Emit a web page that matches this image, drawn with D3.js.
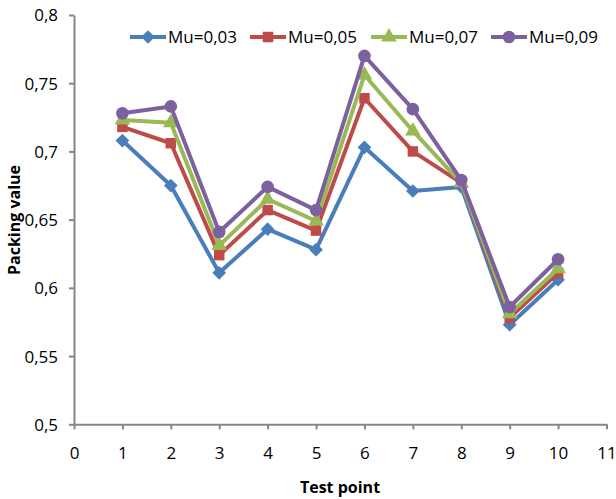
<!DOCTYPE html>
<html><head><meta charset="utf-8">
<script src="https://cdn.jsdelivr.net/npm/d3@7"></script>
<style>body{margin:0;background:#fff}svg{display:block}</style>
</head><body><div id="chart"></div>
<script>
const testPoints = [1,2,3,4,5,6,7,8,9,10];
const seriesNames = ["Mu=0,03","Mu=0,05","Mu=0,07","Mu=0,09"];
const mu003 = [0.708,0.675,0.611,0.643,0.628,0.703,0.671,0.674,0.573,0.606];
const mu005 = [0.718,0.706,0.624,0.657,0.642,0.739,0.700,0.677,0.578,0.611];
const mu007 = [0.723,0.721,0.631,0.665,0.649,0.756,0.715,0.677,0.581,0.614];
const mu009 = [0.728,0.733,0.641,0.674,0.657,0.770,0.731,0.679,0.586,0.621];
const xTicks = [0,1,2,3,4,5,6,7,8,9,10,11];
const yTicks = [0.5,0.55,0.6,0.65,0.7,0.75,0.8];
const colors = ["#4A7EBB","#BE4B48","#98B954","#7D60A0"];
const symbols = [d3.symbolDiamond2 || d3.symbolDiamond, d3.symbolSquare, d3.symbolTriangle, d3.symbolCircle];
const symSizes = [120, 110, 105, 125];

const W=616,H=499;
const svg=d3.select("#chart").append("svg").attr("width",W).attr("height",H);
const font="'Liberation Sans Narrow','Open Sans',sans-serif";
const x=d3.scaleLinear().domain([0,11]).range([74,606.5]);
const y=d3.scaleLinear().domain([0.5,0.8]).range([424.3,15]);
const fmt=d=>String(d).replace(".",",");

const xAxis=svg.append("g").attr("transform","translate(0,424.3)")
 .call(d3.axisBottom(x).tickValues(xTicks).tickSize(5).tickSizeOuter(0).tickFormat(d=>d));
const yAxis=svg.append("g").attr("transform","translate(74,0)")
 .call(d3.axisLeft(y).tickValues(yTicks).tickSize(5).tickSizeOuter(0).tickFormat(fmt));
[xAxis,yAxis].forEach(a=>{
  a.selectAll("path,line").attr("stroke","#868686").attr("stroke-width",2);
  a.selectAll("text").attr("font-family",font).attr("font-size",17).attr("fill","#000");
});
xAxis.selectAll("text").attr("dy","1.55em");
yAxis.selectAll("text").attr("x",-16).attr("dy","0.35em");

const data=[mu003,mu005,mu007,mu009];
const line=d3.line().x((d,i)=>x(testPoints[i])).y(d=>y(d));
data.forEach((vals,k)=>{
  svg.append("path").datum(vals).attr("d",line).attr("fill","none")
    .attr("stroke",colors[k]).attr("stroke-width",4).attr("stroke-linejoin","round");
  svg.append("g").selectAll("path").data(vals).join("path")
    .attr("transform",(d,i)=>`translate(${x(testPoints[i])},${y(d)})`)
    .attr("d",d3.symbol().type(symbols[k]).size(symSizes[k])).attr("fill",colors[k]);
});

// legend
const legX=[130,250,371,491];
seriesNames.forEach((n,k)=>{
  const g=svg.append("g").attr("transform",`translate(${legX[k]},37)`);
  g.append("line").attr("x1",0).attr("x2",36).attr("stroke",colors[k]).attr("stroke-width",4);
  g.append("path").attr("transform","translate(18,0)")
    .attr("d",d3.symbol().type(symbols[k]).size(symSizes[k])).attr("fill",colors[k]);
  g.append("text").attr("x",38).attr("dy","0.35em").attr("font-family",font)
    .attr("font-size",17).text(n);
});

svg.append("text").attr("x",340).attr("y",493).attr("text-anchor","middle")
  .attr("font-family",font).attr("font-weight","bold").attr("font-size",16).text("Test point");
svg.append("text").attr("transform","translate(20,220) rotate(-90)").attr("text-anchor","middle")
  .attr("font-family",font).attr("font-weight","bold").attr("font-size",16).text("Packing value");
</script></body></html>
